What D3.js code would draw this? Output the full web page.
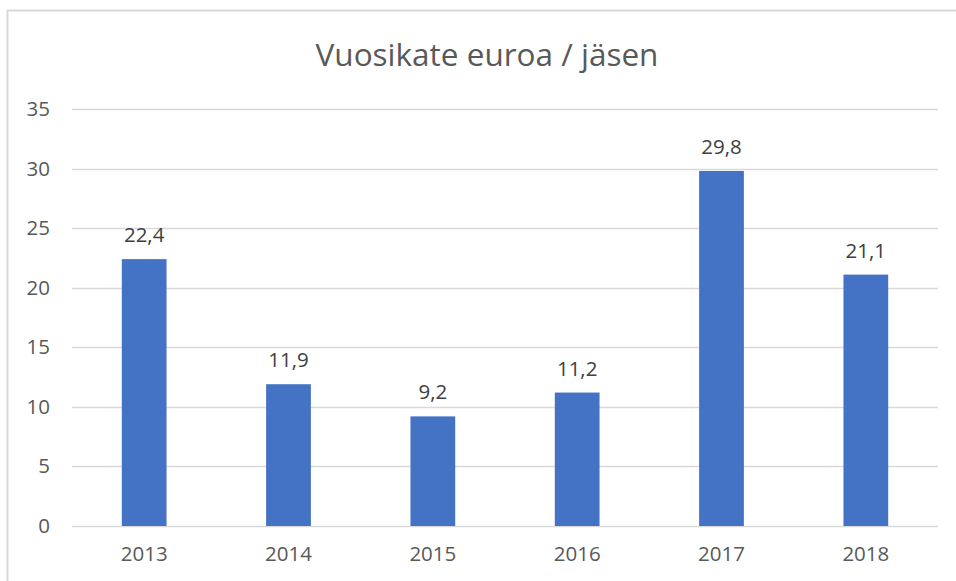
<!DOCTYPE html>
<html>
<head>
<meta charset="utf-8">
<script src="https://cdn.jsdelivr.net/npm/d3@7"></script>
<style>
  body { margin: 0; background: #fff; }
  svg { display: block; font-family: "Open Sans", sans-serif; }
</style>
</head>
<body>
<div id="chart"></div>
<script>
const title = "Vuosikate euroa / jäsen";
const years = ["2013", "2014", "2015", "2016", "2017", "2018"];
const values = [22.4, 11.9, 9.2, 11.2, 29.8, 21.1];
const yTicks = [0, 5, 10, 15, 20, 25, 30, 35];

const width = 956;
const height = 581;
const margin = { top: 109, right: 18, bottom: 55, left: 72 };

const svg = d3.select("#chart")
  .append("svg")
  .attr("width", width)
  .attr("height", height);

// chart frame, cut off at the right and bottom like the screenshot
svg.append("rect")
  .attr("x", 7.5)
  .attr("y", 10.5)
  .attr("width", 1200)
  .attr("height", 1200)
  .attr("fill", "none")
  .attr("stroke", "#d9d9d9")
  .attr("stroke-width", 2);

const x = d3.scaleBand()
  .domain(years)
  .range([margin.left, width - margin.right])
  .paddingInner(0.69)
  .paddingOuter(0.345);

const y = d3.scaleLinear()
  .domain([0, 35])
  .range([height - margin.bottom, margin.top]);

// gridlines
svg.append("g")
  .selectAll("line")
  .data(yTicks)
  .join("line")
  .attr("x1", margin.left)
  .attr("x2", width - margin.right)
  .attr("y1", d => Math.round(y(d)) + 0.5)
  .attr("y2", d => Math.round(y(d)) + 0.5)
  .attr("stroke", "#d9d9d9")
  .attr("stroke-width", 1.5);

// y axis labels
const yAxis = svg.append("g")
  .attr("transform", `translate(${margin.left - 22},0)`)
  .call(d3.axisLeft(y).tickValues(yTicks).tickSize(0).tickPadding(0));
yAxis.select(".domain").remove();
yAxis.selectAll("text")
  .attr("fill", "#595959")
  .style("font-size", "20.5px")
  .style("font-family", "Open Sans, sans-serif");

// x axis labels
const xAxis = svg.append("g")
  .attr("transform", `translate(0,${height - margin.bottom})`)
  .call(d3.axisBottom(x).tickSize(0).tickPadding(20));
xAxis.select(".domain").remove();
xAxis.selectAll("text")
  .attr("fill", "#595959")
  .style("font-size", "20.5px")
  .style("font-family", "Open Sans, sans-serif");

// bars
svg.append("g")
  .selectAll("rect")
  .data(values)
  .join("rect")
  .attr("x", (d, i) => x(years[i]))
  .attr("y", d => y(d))
  .attr("width", x.bandwidth())
  .attr("height", d => y(0) - y(d))
  .attr("fill", "#4472c4");

// value labels
svg.append("g")
  .selectAll("text")
  .data(values)
  .join("text")
  .attr("x", (d, i) => x(years[i]) + x.bandwidth() / 2)
  .attr("y", d => y(d) - 17)
  .attr("text-anchor", "middle")
  .attr("fill", "#404040")
  .style("font-size", "20.5px")
  .text(d => d.toFixed(1).replace(".", ","));

// title
svg.append("text")
  .attr("x", 487)
  .attr("y", 66)
  .attr("text-anchor", "middle")
  .attr("fill", "#595959")
  .style("font-size", "31.5px")
  .text(title);
</script>
</body>
</html>
